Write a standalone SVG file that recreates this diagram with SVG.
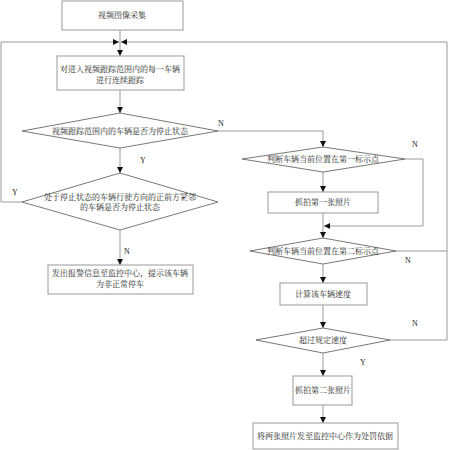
<svg xmlns="http://www.w3.org/2000/svg" width="449" height="450" viewBox="0 0 449 450">
<style>
.box{fill:#fff;stroke:#999;stroke-width:1}
.dia{fill:#fff;stroke:#555;stroke-width:0.8}
.t{font-family:"Noto Serif CJK SC","Noto Sans CJK SC",serif;font-size:8px;fill:#222;text-anchor:middle}
.l{font-family:"Liberation Serif",serif;font-size:8px;fill:#222;text-anchor:middle}
.c{fill:none;stroke:#999;stroke-width:1}
</style>
<defs>
<marker id="a" viewBox="0 0 10 10" refX="10" refY="5" markerWidth="6" markerHeight="6" orient="auto" markerUnits="userSpaceOnUse">
<path d="M0,0 L10,5 L0,10 z" fill="#111"/>
</marker>
</defs>
<rect width="449" height="450" fill="#fff"/>
<g id="connectors">
<path class="c" d="M120,30 V56" marker-end="url(#a)"/>
<path class="c" d="M22,202 H1 V42 H119" marker-end="url(#a)"/>
<path class="c" d="M396,251 H447"/>
<path class="c" d="M390,340 H447 V42 H121" marker-end="url(#a)"/>
<path class="c" d="M120,90 V113" marker-end="url(#a)"/>
<path class="c" d="M120,148 V173" marker-end="url(#a)"/>
<path class="c" d="M120,230 V265" marker-end="url(#a)"/>
<path class="c" d="M218,131 H323 V147" marker-end="url(#a)"/>
<path class="c" d="M323,172 V192" marker-end="url(#a)"/>
<path class="c" d="M323,213 V238" marker-end="url(#a)"/>
<path class="c" d="M405,159 H423 V226 H324" marker-end="url(#a)"/>
<path class="c" d="M323,264 V283" marker-end="url(#a)"/>
<path class="c" d="M323,305 V328" marker-end="url(#a)"/>
<path class="c" d="M323,353 V376" marker-end="url(#a)"/>
<path class="c" d="M323,405 V423" marker-end="url(#a)"/>
</g>
<g id="labels">
<text class="l" x="221" y="126">N</text>
<text class="l" x="143" y="163">Y</text>
<text class="l" x="15" y="195">Y</text>
<text class="l" x="127" y="254">N</text>
<text class="l" x="415" y="147">N</text>
<text class="l" x="408" y="263">N</text>
<text class="l" x="415" y="326">N</text>
<text class="l" x="363" y="365">Y</text>
</g>
<g id="n1"><rect class="box" x="62" y="1" width="121" height="29"/><text class="t" x="122" y="18">视频图像采集</text></g>
<g id="n2"><rect class="box" x="57" y="56" width="127" height="34"/><text class="t" x="120" y="72">对进入视频跟踪范围内的每一车辆</text><text class="t" x="120" y="83">进行连续跟踪</text></g>
<g id="d1"><polygon class="dia" points="120,113 218,131 120,148 22,131"/><text class="t" x="120" y="134">视频跟踪范围内的车辆是否为停止状态</text></g>
<g id="d2"><polygon class="dia" points="120,173 218,202 120,230 22,202"/><text class="t" x="120" y="200">处于停止状态的车辆行驶方向的正前方紧邻</text><text class="t" x="120" y="210">的车辆是否为停止状态</text></g>
<g id="n3"><rect class="box" x="48" y="265" width="145" height="29"/><text class="t" x="120" y="276">发出报警信息至监控中心，提示该车辆</text><text class="t" x="120" y="287">为非正常停车</text></g>
<g id="d3"><polygon class="dia" points="323,147 405,159 323,172 242,159"/><text class="t" x="323" y="162">判断车辆当前位置在第一标示点</text></g>
<g id="n4"><rect class="box" x="268" y="192" width="110" height="21"/><text class="t" x="323" y="205">抓拍第一张照片</text></g>
<g id="d4"><polygon class="dia" points="323,238 396,251 323,264 250,251"/><text class="t" x="323" y="254">判断车辆当前位置在第二标示点</text></g>
<g id="n5"><rect class="box" x="280" y="283" width="87" height="22"/><text class="t" x="323" y="297">计算该车辆速度</text></g>
<g id="d5"><polygon class="dia" points="323,328 390,340 323,353 256,340"/><text class="t" x="323" y="343">超过规定速度</text></g>
<g id="n6"><rect class="box" x="293" y="376" width="59" height="29"/><text class="t" x="323" y="393">抓拍第二张照片</text></g>
<g id="n7"><rect class="box" x="253" y="423" width="145" height="26"/><text class="t" x="325" y="439">将两张照片发至监控中心作为处罚依据</text></g>
</svg>
